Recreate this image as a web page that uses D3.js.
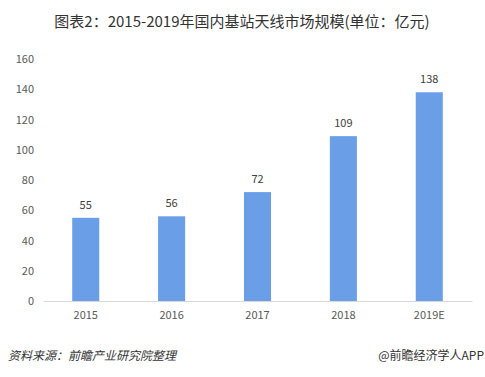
<!DOCTYPE html>
<html>
<head>
<meta charset="utf-8">
<script src="https://cdn.jsdelivr.net/npm/d3@7"></script>
<style>
  body { margin: 0; background: #fff; }
  text { font-family: "Microsoft YaHei", "Noto Sans CJK SC", sans-serif; }
</style>
</head>
<body>
<script>
var years = ["2015", "2016", "2017", "2018", "2019E"];
var sizes = [55, 56, 72, 109, 138];
var yTicks = [0, 20, 40, 60, 80, 100, 120, 140, 160];

var width = 485, height = 377;

var svg = d3.select("body")
  .append("svg")
  .attr("width", width)
  .attr("height", height);

svg.append("text")
  .attr("x", 242)
  .attr("y", 27)
  .attr("text-anchor", "middle")
  .attr("fill", "#333")
  .style("font-size", "15px")
  .text("图表2：2015-2019年国内基站天线市场规模(单位：亿元)");

var x = d3.scaleBand()
  .domain(years)
  .range([43, 472])
  .paddingInner(0.685)
  .paddingOuter(0.34);

var y = d3.scaleLinear()
  .domain([0, 160])
  .range([301, 59]);

// y tick labels, no axis line
svg.selectAll(".ytick")
  .data(yTicks)
  .enter()
  .append("text")
  .attr("class", "ytick")
  .attr("x", 34)
  .attr("y", function(d) { return y(d) + 4; })
  .attr("text-anchor", "end")
  .attr("fill", "#595959")
  .style("font-size", "11px")
  .text(function(d) { return d; });

svg.selectAll(".bar")
  .data(sizes)
  .enter()
  .append("rect")
  .attr("class", "bar")
  .attr("x", function(d, i) { return x(years[i]); })
  .attr("width", x.bandwidth())
  .attr("y", function(d) { return y(d); })
  .attr("height", function(d) { return y(0) - y(d); })
  .attr("fill", "#6A9FE8");

svg.selectAll(".val")
  .data(sizes)
  .enter()
  .append("text")
  .attr("class", "val")
  .attr("x", function(d, i) { return x(years[i]) + x.bandwidth() / 2; })
  .attr("y", function(d) { return y(d) - 9; })
  .attr("text-anchor", "middle")
  .attr("fill", "#404040")
  .style("font-size", "11px")
  .text(function(d) { return d; });

// x axis
var xAxis = svg.append("g")
  .attr("transform", "translate(0," + y(0) + ")")
  .call(d3.axisBottom(x).tickSize(0).tickPadding(10));
xAxis.select(".domain").attr("stroke", "#d9d9d9");
xAxis.selectAll("text")
  .attr("fill", "#595959")
  .style("font-size", "11px")
  .style("font-family", "\"Noto Sans CJK SC\", sans-serif");

svg.append("text")
  .attr("x", 8)
  .attr("y", 360)
  .attr("fill", "#333")
  .style("font-size", "12px")
  .style("font-style", "italic")
  .text("资料来源：前瞻产业研究院整理");

svg.append("text")
  .attr("x", 484)
  .attr("y", 360)
  .attr("text-anchor", "end")
  .attr("fill", "#333")
  .style("font-size", "12px")
  .text("@前瞻经济学人APP");
</script>
</body>
</html>
